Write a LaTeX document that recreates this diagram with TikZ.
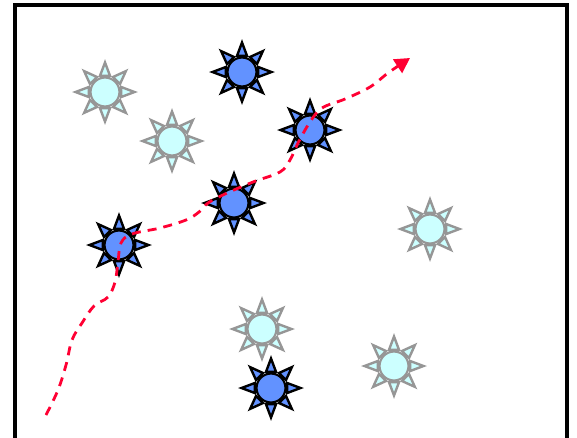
\documentclass[tikz,border=0pt]{standalone}
\usetikzlibrary{arrows.meta}
\definecolor{sunblue}{RGB}{98,146,255}
\definecolor{suncyan}{RGB}{204,255,255}
\definecolor{sungrey}{RGB}{150,150,150}
\definecolor{pathred}{RGB}{255,0,51}
\tikzset{
  core/.style={circle,minimum size=29pt,inner sep=0pt,line width=2.2pt},
  darkcore/.style={core,draw=black,fill=sunblue},
  lightcore/.style={core,draw=sungrey,fill=suncyan},
  ray/.style={line width=2.4pt,line join=miter},
  darkray/.style={ray,draw=black,fill=sunblue},
  lightray/.style={ray,draw=sungrey,fill=suncyan},
  route/.style={draw=pathred,line width=2.8pt,dash pattern=on 9pt off 7pt,
                -{Triangle[length=15pt,width=16pt]}},
}
\begin{document}
\begin{tikzpicture}[x=1pt,y=-1pt]
  \useasboundingbox (0,0) rectangle (577,437);
  \draw[line width=4pt] (15,5) rectangle (567,452);
  % pale suns
  \foreach \name/\x/\y in {l1/105/92, l2/172/141, l3/430/229, l4/262/329, l5/394/366}{
    \foreach \a in {0,45,...,315}
      {\draw[lightray,shift={(\x,\y)}] (\a-17:17) -- (\a:29.5) -- (\a+17:17) -- cycle;}
    \node[lightcore] (\name) at (\x,\y) {};
  }
  % dark suns
  \foreach \name/\x/\y in {d1/242/72, d2/310/130, d3/234/203, d4/119/245, d5/271/388}{
    \foreach \a in {0,45,...,315}
      {\draw[darkray,shift={(\x,\y)}] (\a-17:17) -- (\a:29.5) -- (\a+17:17) -- cycle;}
    \node[darkcore] (\name) at (\x,\y) {};
  }
  % route
  \coordinate (start) at (46,415);
  \coordinate (goal) at (410,58);
  \draw[route] plot[smooth,tension=0.6] coordinates {(start) (58,390) (66,365)
    (72,340) (82,323) (94,306) (108,297) (115,282) (118,262) (121,243) (132,234)
    (160,228) (186,220) (199,212) (208,203) (225,194) (253,182) (280,172)
    (290,160) (298,143) (310,122) (322,108) (345,99) (370,87) (388,73) (goal)};
\end{tikzpicture}
\end{document}
